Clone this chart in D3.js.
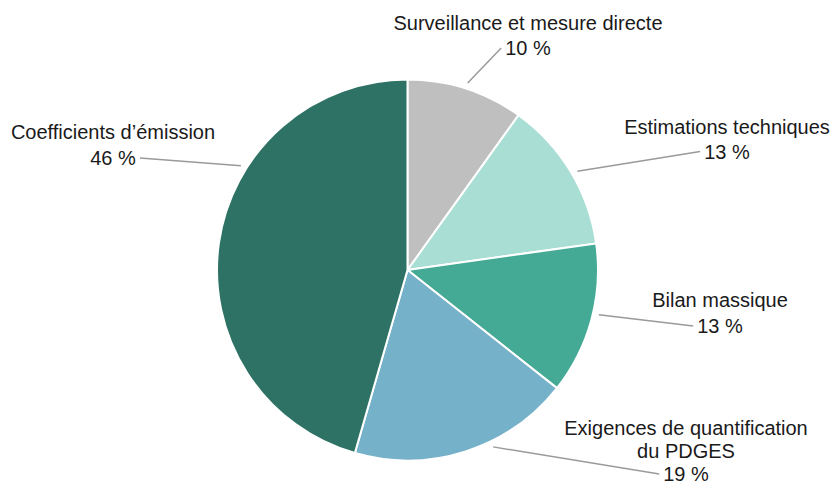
<!DOCTYPE html>
<html>
<head>
<meta charset="utf-8">
<script src="https://cdn.jsdelivr.net/npm/d3@7/dist/d3.min.js"></script>
<style>
  html, body { margin: 0; padding: 0; background: #ffffff; }
  svg { display: block; }
  text { font-family: "Liberation Sans", Arial, sans-serif; fill: #1a1a1a; }
</style>
</head>
<body>
<svg id="chart" width="831" height="486"></svg>
<script>
// Répartition des méthodes de quantification (en %)
const categories = [
  ["Surveillance et mesure directe"],
  ["Estimations techniques"],
  ["Bilan massique"],
  ["Exigences de quantification", "du PDGES"],
  ["Coefficients d’émission"]
];
const values = [10, 13, 13, 19, 46];
const colors = ["#bfbfbf", "#a9ded5", "#44aa95", "#76b1ca", "#2d7264"];

// Label placement: text centre x, first baseline y, line spacing, leader-line tweak (degrees)
const labelLayout = [
  { x: 528, y: 30,    dy: 25,   lineAngle: 0 },
  { x: 727, y: 134,   dy: 24.5, lineAngle: 1 },
  { x: 720, y: 307,   dy: 26,   lineAngle: -2 },
  { x: 686, y: 435,   dy: 23,   lineAngle: -8 },
  { x: 113, y: 139,   dy: 26,   lineAngle: 24 }
];

const width = 831, height = 486;
const cx = 407.5, cy = 270, radius = 190.5;
const fontSize = 20;

const svg = d3.select("#chart");
const g = svg.append("g").attr("transform", `translate(${cx},${cy})`);

const data = values.map((v, i) => ({ name: categories[i], value: v, color: colors[i], layout: labelLayout[i] }));

const pie = d3.pie().sort(null).value(d => d.value);
const arc = d3.arc().innerRadius(0).outerRadius(radius);
const arcs = pie(data);

g.selectAll("path.slice")
  .data(arcs)
  .join("path")
  .attr("class", "slice")
  .attr("d", arc)
  .attr("fill", d => d.data.color)
  .attr("stroke", "#ffffff")
  .attr("stroke-width", 2)
  .attr("stroke-linejoin", "round");

// Leader lines and labels
const labels = svg.append("g");
arcs.forEach(d => {
  const L = d.data.layout;
  const lines = d.data.name.concat([`${d.data.value} %`]);
  const mid = (d.startAngle + d.endAngle) / 2 + L.lineAngle * Math.PI / 180;
  const r0 = radius + 6;
  const x0 = cx + r0 * Math.sin(mid), y0 = cy - r0 * Math.cos(mid);

  const t = labels.append("text")
    .attr("text-anchor", "middle")
    .attr("font-size", fontSize);
  lines.forEach((ln, k) => {
    t.append("tspan").attr("x", L.x).attr("y", L.y + k * L.dy).text(ln);
  });

  // attach the leader on the near side of the percentage line
  const pct = t.selectAll("tspan").nodes().slice(-1)[0];
  const bb = pct.getBBox();
  const lastY = L.y + (lines.length - 1) * L.dy - 7;
  const x1 = x0 < L.x ? bb.x - 4 : bb.x + bb.width + 4;
  labels.insert("line", "text")
    .attr("x1", x0).attr("y1", y0)
    .attr("x2", x1).attr("y2", lastY)
    .attr("stroke", "#9a9a9a")
    .attr("stroke-width", 1.5);
});
</script>
</body>
</html>
